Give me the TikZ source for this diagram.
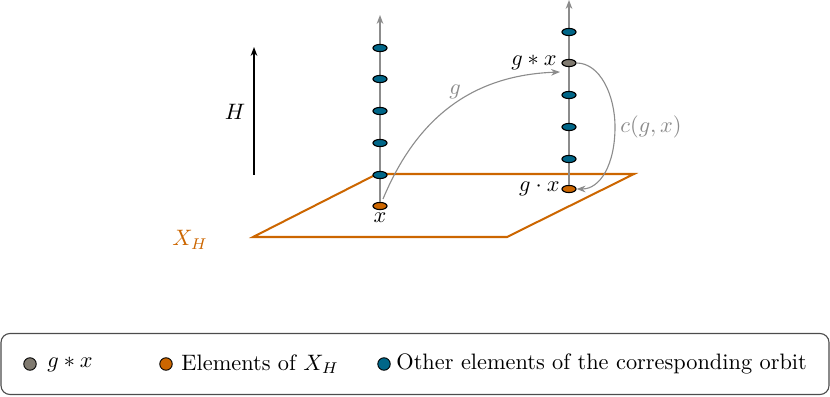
\documentclass[tikz,border=0pt]{standalone}
\usetikzlibrary{arrows.meta,shapes.geometric}
\definecolor{orng}{RGB}{204,102,0}
\definecolor{blu}{RGB}{0,102,136}
\definecolor{gry}{RGB}{128,122,112}
\definecolor{lgry}{RGB}{140,140,140}
\begin{document}
\begin{tikzpicture}[x=0.448pt,y=-0.448pt,
  elt/.style={ellipse,draw=black,line width=0.5pt,minimum width=6.3pt,minimum height=3.2pt,inner sep=0pt},
  eltb/.style={elt,fill=blu},
  elto/.style={elt,fill=orng},
  eltg/.style={elt,fill=gry},
  axis/.style={draw=lgry,line width=0.6pt,-{Stealth[length=4pt,width=3pt]}},
  curv/.style={draw=lgry,line width=0.5pt,-{Stealth[length=4pt,width=3pt]}},
  dot/.style={circle,draw=black,line width=0.4pt,minimum size=5.6pt,inner sep=0pt},
  lab/.style={inner sep=1pt}]
\useasboundingbox (0,0) rectangle (830,397);
% plane
\draw[orng,line width=0.9pt] (253,237) -- (507,237) -- (634,174) -- (377,174) -- cycle;
\node[orng] (XH) at (190,240) {$X_H$};
% H arrow
\coordinate (Hb) at (254,175);
\coordinate (Ht) at (254,47);
\draw[line width=0.6pt,-{Stealth[length=4pt,width=3pt]}] (Hb) -- (Ht);
\node (H) at (235,112) {$H$};
% left column
\node[elto] (L0) at (380,206) {};
\coordinate (Ltop) at (380,15);
\draw[axis] (L0.north) -- (Ltop);
\node[eltb] (L1) at (380,175) {};
\node[eltb] (L2) at (380,143) {};
\node[eltb] (L3) at (380,111) {};
\node[eltb] (L4) at (380,79) {};
\node[eltb] (L5) at (380,48) {};
\node[anchor=north,inner sep=0pt] (xl) at (380,212) {$x$};
% right column
\node[elto] (R0) at (569,189) {};
\coordinate (Rtop) at (569,0);
\draw[axis] (R0.north) -- (Rtop);
\node[eltb] (R1) at (569,159) {};
\node[eltb] (R2) at (569,127) {};
\node[eltb] (R3) at (569,95) {};
\node[eltg] (R4) at (569,63) {};
\node[eltb] (R5) at (569,32) {};
\node[anchor=east,inner sep=0pt] (gsx) at (557,62) {$g*x$};
\node[anchor=east,inner sep=0pt] (gdx) at (560,189) {$g\cdot x$};
% g curve
\coordinate (gs) at (383,199);
\draw[curv] (gs) .. controls (420,110) and (480,75) .. (560,72);
\node[lgry] (glab) at (455,92) {$g$};
% c curve
\draw[curv] (R4.east) .. controls (600,63) and (615,95) .. (615,127) .. controls (615,165) and (600,189) .. (R0.east);
\node[lgry] (clab) at (651,127) {$c(g,x)$};
% legend
\node[draw=black!70,rounded corners=4pt,line width=0.5pt,minimum width=828*0.448pt,minimum height=61*0.448pt] (leg) at (415,364) {};
\node[dot,fill=gry] (d1) at (30,364) {};
\node[anchor=west,inner sep=0pt] (t1) at (47,364) {$g*x$};
\node[dot,fill=orng] (d2) at (166,364) {};
\node[anchor=west,inner sep=0pt] (t2) at (181,364) {Elements of $X_H$};
\node[dot,fill=blu] (d3) at (384,364) {};
\node[anchor=west,inner sep=0pt] (t3) at (396,364) {Other elements of the corresponding orbit};
\end{tikzpicture}
\end{document}
